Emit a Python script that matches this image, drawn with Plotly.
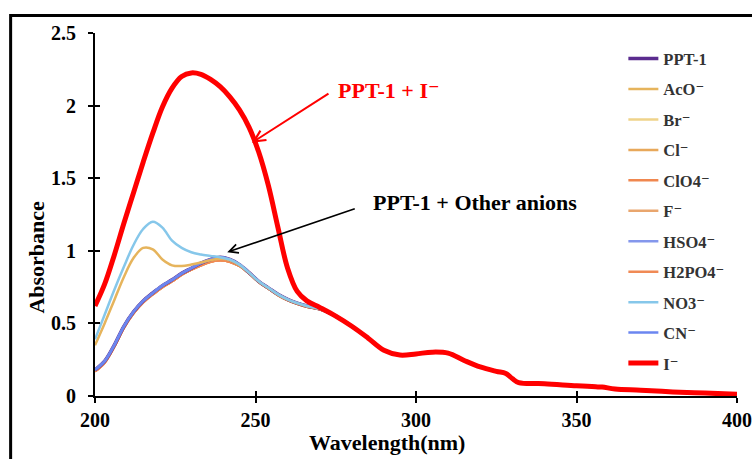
import plotly.graph_objects as go

# ---- data ----
wl_head = [200, 203, 206, 209, 212, 215, 218, 221, 224, 227, 230, 233, 236, 239,
           242, 245, 248, 251, 254, 257, 260, 263, 266, 270]
wl_tail = [275, 280, 285, 290, 295, 300, 305, 310, 315, 320, 325, 328, 330, 332,
           340, 350, 356, 358, 362, 370, 380, 390, 400]

tail = [0.55, 0.48, 0.40, 0.315, 0.282, 0.29, 0.302, 0.295, 0.245, 0.20, 0.17, 0.155,
        0.12, 0.092, 0.085, 0.07, 0.063, 0.062, 0.048, 0.04, 0.028, 0.02, 0.012]

iodide_head = [0.62, 0.77, 0.97, 1.19, 1.40, 1.61, 1.81, 1.99, 2.12, 2.20, 2.225, 2.215,
               2.18, 2.13, 2.06, 1.97, 1.85, 1.68, 1.45, 1.16, 0.88, 0.72, 0.655, 0.61]
ppt_head = [0.18, 0.24, 0.35, 0.48, 0.58, 0.655, 0.71, 0.76, 0.80, 0.845, 0.88, 0.915,
            0.94, 0.955, 0.94, 0.905, 0.85, 0.79, 0.745, 0.70, 0.665, 0.64, 0.62, 0.60]
orange_head = [0.17, 0.23, 0.34, 0.47, 0.57, 0.645, 0.70, 0.75, 0.79, 0.835, 0.87, 0.90,
               0.925, 0.935, 0.925, 0.895, 0.845, 0.785, 0.74, 0.695, 0.66, 0.635, 0.615, 0.597]
aco_head = [0.35, 0.50, 0.66, 0.82, 0.95, 1.02, 1.01, 0.94, 0.90, 0.895, 0.905, 0.92,
            0.935, 0.945, 0.935, 0.90, 0.848, 0.788, 0.743, 0.698, 0.663, 0.638, 0.618, 0.598]
no3_head = [0.39, 0.56, 0.73, 0.89, 1.04, 1.15, 1.20, 1.16, 1.07, 1.02, 0.99, 0.975,
            0.965, 0.955, 0.94, 0.905, 0.85, 0.79, 0.745, 0.70, 0.665, 0.64, 0.62, 0.60]

names = ["PPT-1", "AcO⁻", "Br⁻", "Cl⁻", "ClO4⁻", "F⁻", "HSO4⁻", "H2PO4⁻", "NO3⁻", "CN⁻", "I⁻"]
colors = ["#5B2C8F", "#E6B45C", "#EFD38A", "#E8A85A", "#F0874F", "#E9A66E",
          "#8497EC", "#F08A55", "#86C7EA", "#6B86F0", "#FF0000"]
widths = [3.5, 2.5, 2.5, 2.5, 2.5, 2.5, 2.5, 2.5, 2.5, 2.5, 5]
heads = [ppt_head, aco_head, ppt_head, orange_head, orange_head, orange_head,
         ppt_head, orange_head, no3_head, ppt_head, iodide_head]
draw_order = [3, 5, 4, 7, 2, 0, 6, 9, 1, 8, 10]

wl = wl_head + wl_tail

fig = go.Figure()
for i in draw_order:
    fig.add_trace(go.Scatter(
        x=wl, y=heads[i] + tail, mode="lines", name=names[i],
        line=dict(color=colors[i], width=widths[i], shape="spline", smoothing=1.0),
        legendrank=i + 1, legendgroup=names[i],
    ))

font_family = "'Liberation Serif', 'Times New Roman', 'DejaVu Serif', serif"
fig.update_layout(
    width=752, height=459,
    margin=dict(l=94.5, r=14.5, t=33, b=63, autoexpand=False),
    paper_bgcolor="white", plot_bgcolor="white",
    font=dict(family=font_family, size=20, color="black", weight="bold"),
    showlegend=True,
    legend=dict(x=0.823, y=0.977, xanchor="left", yanchor="top",
                bgcolor="rgba(0,0,0,0)",
                font=dict(family=font_family, size=16.5, color="#333333", weight="bold"),
                traceorder="grouped", tracegroupgap=6, itemwidth=30),
    xaxis=dict(range=[200, 400], tickvals=[200, 250, 300, 350, 400],
               showgrid=False, zeroline=False, showline=True, linecolor="black", linewidth=2,
               ticks="outside", ticklen=5, tickwidth=2, tickcolor="black",
               tickfont=dict(size=20)),
    yaxis=dict(range=[0, 2.5], tickvals=[0, 0.5, 1, 1.5, 2, 2.5],
               ticktext=["0", "0.5", "1", "1.5", "2", "2.5"],
               showgrid=False, zeroline=False, showline=True, linecolor="black", linewidth=2,
               ticks="outside", ticklen=5, tickwidth=2, tickcolor="black",
               ticklabelstandoff=8, tickfont=dict(size=20)),
    xaxis2=dict(range=[200, 400], overlaying="x", side="bottom", anchor="y",
                tickvals=[200, 250, 300, 350, 400], showticklabels=False,
                ticks="inside", ticklen=5, tickwidth=2, tickcolor="black",
                showgrid=False, zeroline=False, showline=False),
    yaxis2=dict(range=[0, 2.5], overlaying="y", side="left", anchor="x",
                tickvals=[0, 0.5, 1, 1.5, 2, 2.5], showticklabels=False,
                ticks="inside", ticklen=5, tickwidth=2, tickcolor="black",
                showgrid=False, zeroline=False, showline=False),
)
# dummy trace to activate the overlay axes
fig.add_trace(go.Scatter(x=[None], y=[None], xaxis="x2", yaxis="y2", showlegend=False, hoverinfo="skip"))

# axis titles (positioned as in the reference)
fig.add_annotation(x=(386.5 - 94.5) / 643, y=(396 - 442) / 363, xref="paper", yref="paper",
                   text="Wavelength(nm)", showarrow=False, xanchor="center", yanchor="middle",
                   font=dict(size=22, color="black", family=font_family, weight="bold"))
fig.add_annotation(x=(35 - 94.5) / 643, y=(396 - 257) / 363, xref="paper", yref="paper",
                   text="Absorbance", showarrow=False, xanchor="center", yanchor="middle",
                   textangle=-90,
                   font=dict(size=22, color="black", family=font_family, weight="bold"))

# arrows and labels
fig.add_annotation(x=248.9, y=1.745, ax=78, ay=-50, text="", showarrow=True,
                   arrowhead=5, arrowsize=1.1, arrowwidth=2, arrowcolor="#FF0000",
                   xref="x", yref="y")
fig.add_annotation(x=241.2, y=0.99, ax=129, ay=-44, text="", showarrow=True,
                   arrowhead=5, arrowsize=1.1, arrowwidth=1.6, arrowcolor="black",
                   xref="x", yref="y")
fig.add_annotation(x=(336 - 94.5) / 643, y=(396 - 90) / 363, xref="paper", yref="paper",
                   text="PPT-1 + I⁻", showarrow=False, xanchor="left", yanchor="middle",
                   font=dict(size=22, color="#FF0000", family=font_family, weight="bold"))
fig.add_annotation(x=(371 - 94.5) / 643, y=(396 - 203) / 363, xref="paper", yref="paper",
                   text="PPT-1 + Other anions", showarrow=False, xanchor="left", yanchor="middle",
                   font=dict(size=22, color="black", family=font_family, weight="bold"))

# outer frame
fig.add_shape(type="rect", xref="paper", yref="paper",
              x0=(10 - 94.5) / 643, x1=(770 - 94.5) / 643,
              y0=(396 - 480) / 363, y1=(396 - 15.5) / 363,
              line=dict(color="black", width=3), fillcolor="rgba(0,0,0,0)", layer="above")

fig.write_html("out.html")
